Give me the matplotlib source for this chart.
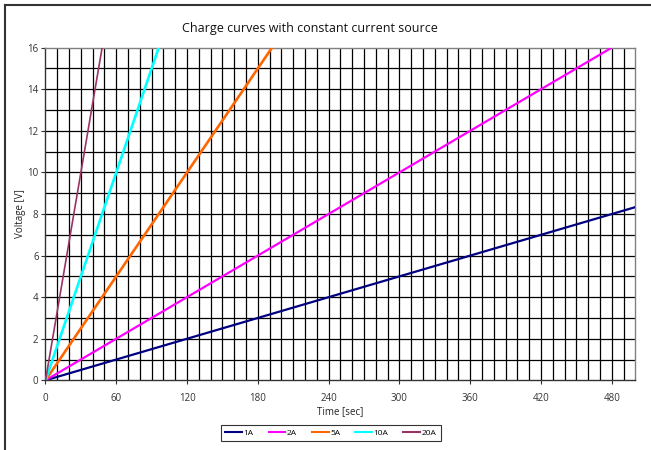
import matplotlib
matplotlib.use("Agg")
import matplotlib.pyplot as plt
from matplotlib.lines import Line2D
import numpy as np

plt.rcParams['font.family'] = ['Open Sans', 'DejaVu Sans']

# Data: time [sec] and voltage [V] end points for each charge current
series_labels = ["1A", "2A", "5A", "10A", "20A"]
series_time = [
    [0, 500],
    [0, 480],
    [0, 192],
    [0, 96],
    [0, 48],
]
series_voltage = [
    [0, 8.33],
    [0, 16],
    [0, 16],
    [0, 16],
    [0, 16],
]
series_colors = ["#000080", "#FF00FF", "#FF6600", "#00FFFF", "#993366"]
series_widths = [1.6, 1.6, 1.9, 1.9, 1.2]

x_ticks = [0, 60, 120, 180, 240, 300, 360, 420, 480]
y_ticks = [0, 2, 4, 6, 8, 10, 12, 14, 16]

W, H = 651, 450
dpi = 100
fig = plt.figure(figsize=(W / dpi, H / dpi), dpi=dpi)

left, right, top, bottom = 45.5, 635.3, 47.7, 380.3
ax = fig.add_axes([left / W, 1 - bottom / H, (right - left) / W, (bottom - top) / H])

ax.set_xlim(0, 500)
ax.set_ylim(0, 16)

# grid
for gx in np.arange(10, 500, 10):
    ax.axvline(gx, color="black", lw=0.9, zorder=1)
for gy in np.arange(1, 16, 1):
    ax.axhline(gy, color="black", lw=0.9, zorder=1)

for t, v, c, w, lab in zip(series_time, series_voltage, series_colors, series_widths, series_labels):
    ax.plot(t, v, color=c, lw=w, label=lab, zorder=3, solid_capstyle="butt")

ax.set_xticks(x_ticks)
ax.set_yticks(y_ticks)
ax.tick_params(axis="both", labelsize=7, colors="#333333", length=3, width=0.8, pad=2)
ax.tick_params(axis="x", pad=6)
for sp in ax.spines.values():
    sp.set_color("#808080")
    sp.set_linewidth(1.0)
ax.spines["left"].set_color("#333333")
ax.spines["bottom"].set_color("#333333")

ax.set_xlabel("Time [sec]", fontsize=7, color="#222222", labelpad=2)
ax.set_ylabel("Voltage [V]", fontsize=7, color="#222222", labelpad=1)

fig.text(310 / W, 1 - 28.5 / H, "Charge curves with constant current source",
         ha="center", va="center", fontsize=9, color="#111111")

handles = [Line2D([0], [0], color=c, lw=1.5) for c in series_colors]
leg = fig.legend(handles, series_labels, loc="center",
                 bbox_to_anchor=(331 / W, 1 - 433 / H), ncol=5, fontsize=6,
                 frameon=True, fancybox=False, handlelength=2.0, handletextpad=0.2,
                 columnspacing=1.8, borderpad=0.5)
leg.get_frame().set_edgecolor("black")
leg.get_frame().set_linewidth(0.8)

# figure border (left and top visible)
fig.add_artist(Line2D([4.5 / W, 4.5 / W], [0, 1 - 5 / H], color="#333333", lw=1.5,
                      transform=fig.transFigure))
fig.add_artist(Line2D([4.5 / W, 1], [1 - 5 / H, 1 - 5 / H], color="#333333", lw=1.5,
                      transform=fig.transFigure))

fig.savefig("out.png", dpi=dpi)
